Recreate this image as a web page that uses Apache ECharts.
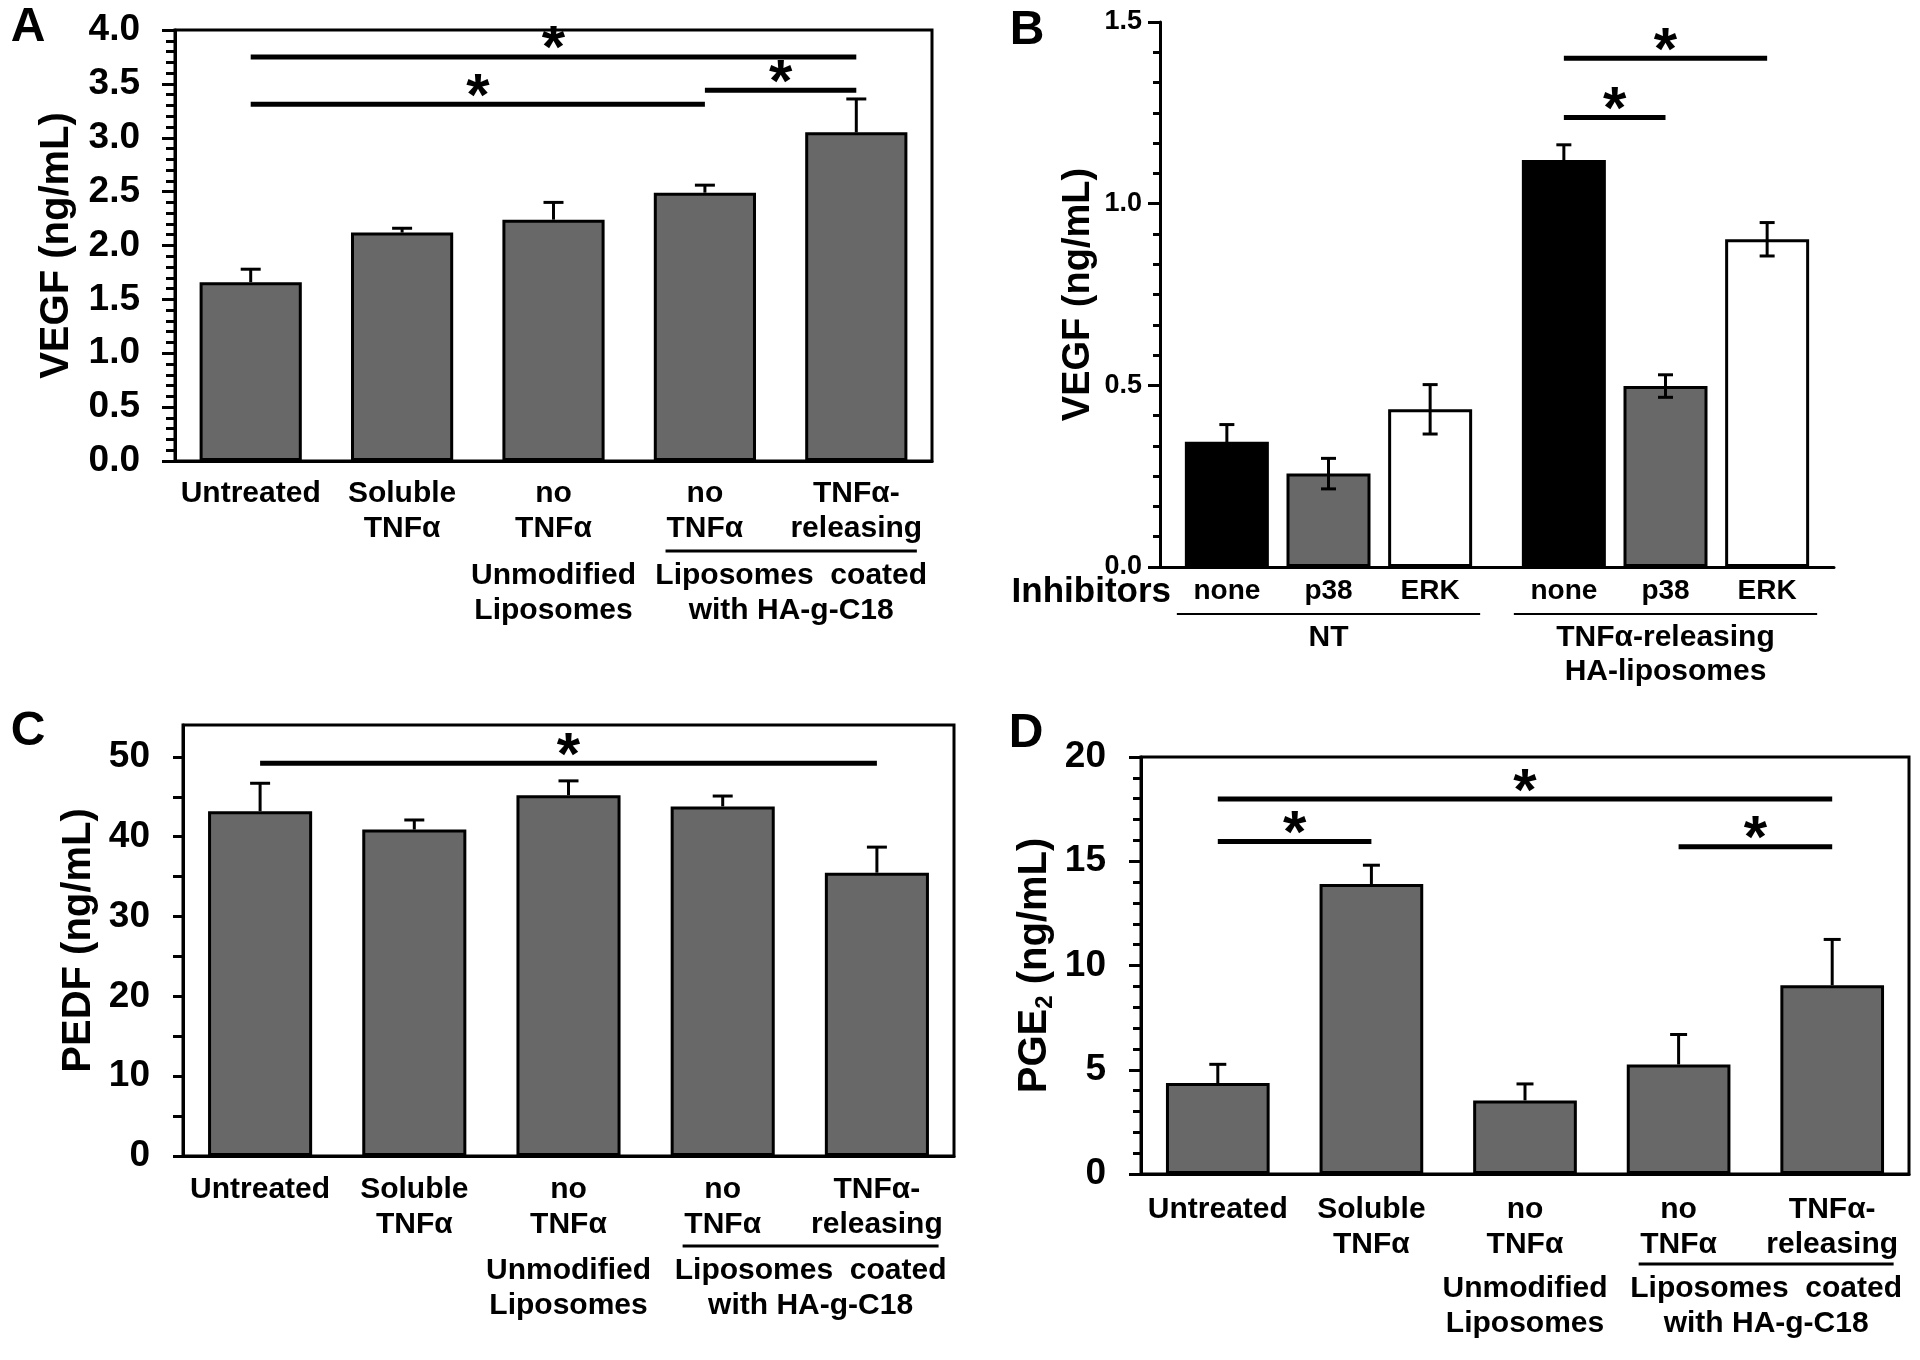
<!DOCTYPE html>
<html><head><meta charset="utf-8">
<script src="https://cdn.jsdelivr.net/npm/echarts@6/dist/echarts.min.js"></script>
<style>html,body{margin:0;padding:0;background:#fff}#c{width:1920px;height:1360px}</style>
</head><body><div id="c"></div>
<script>
// ---------- data ----------
const catsACD = ['Untreated', 'Soluble\nTNFα', 'no\nTNFα', 'no\nTNFα', 'TNFα-\nreleasing'];
const groupLabelsACD = ['Unmodified\nLiposomes', 'Liposomes  coated\nwith HA-g-C18'];

// Panel A: VEGF (ng/mL)
const vegfA = [1.66, 2.12, 2.24, 2.49, 3.05];
const vegfAErr = [0.12, 0.04, 0.16, 0.07, 0.31];
const sigA = [[0, 4, 3.75], [0, 3, 3.31], [3, 4, 3.44]];

// Panel B: VEGF (ng/mL) with inhibitors
const groupsB = ['NT', 'TNFα-releasing\nHA-liposomes'];
const inhibitorsB = ['none', 'p38', 'ERK'];
const vegfBNone = [0.345, 1.12];
const vegfBP38 = [0.257, 0.498];
const vegfBErk = [0.434, 0.902];
const vegfBNoneErr = [0.047, 0.042];
const vegfBP38Err = [0.042, 0.031];
const vegfBErkErr = [0.068, 0.046];
const sigB = [[1, 0, 2, 1.40], [1, 0, 1, 1.237]];

// Panel C: PEDF (ng/mL)
const pedfC = [43.2, 40.9, 45.2, 43.8, 35.5];
const pedfCErr = [3.5, 1.2, 1.8, 1.3, 3.2];
const sigC = [[0, 4, 49.2]];
const ticksC = [0, 5, 10, 15, 20, 25, 30, 35, 40, 45, 50];
const labelsC = [0, 10, 20, 30, 40, 50];

// Panel D: PGE2 (ng/mL)
const pge2D = [4.36, 13.91, 3.53, 5.25, 9.05];
const pge2DErr = [0.9, 0.9, 0.79, 1.44, 2.2];
const sigD = [[0, 4, 17.98], [0, 1, 15.95], [3, 4, 15.7]];

// ---------- styling ----------
const FONT = '"Liberation Sans", Arial, Helvetica, sans-serif';
const GREY = '#686868';
const B_BAR_W = 84, B_GAP = 0.21, B_STEP = B_BAR_W * (1 + B_GAP);
const txt = (s) => ({ fontFamily: FONT, fontWeight: 'bold', fontSize: s, color: '#000' });
const blackLine = (w) => ({ color: '#000', width: w });

function catAxis(gi, data, margin, fs, lh) {
  return {
    type: 'category', gridIndex: gi, data: data,
    axisLine: { show: true, lineStyle: blackLine(3) },
    axisTick: { show: false },
    axisLabel: Object.assign(txt(fs), { interval: 0, margin: margin, lineHeight: lh }),
    splitLine: { show: false }
  };
}
function valAxis(gi, o) {
  const ax = {
    type: 'value', gridIndex: gi, min: o.min, max: o.max,
    axisLine: { show: true, onZero: false, lineStyle: blackLine(3) },
    axisTick: { show: true, length: o.tickLen, lineStyle: blackLine(3) },
    axisLabel: Object.assign(txt(o.fs), { margin: o.margin }),
    splitLine: { show: false },
    name: o.name, nameLocation: 'middle', nameGap: o.nameGap, nameRotate: 90,
    nameMoveOverlap: false,
    nameTextStyle: o.nameStyle || txt(o.nameFs)
  };
  if (o.interval != null) ax.interval = o.interval;
  if (o.minor) ax.minorTick = { show: true, splitNumber: o.minor, length: o.minorLen, lineStyle: blackLine(3) };
  if (o.fmt) ax.axisLabel.formatter = o.fmt;
  return ax;
}
function barSeries(gi, data) {
  return {
    type: 'bar', xAxisIndex: gi, yAxisIndex: gi, data: data, barWidth: '67.5%', z: 2,
    itemStyle: { color: GREY, borderColor: '#000', borderWidth: 3 }
  };
}
function upErr(gi, vals, errs, capW) {
  return {
    type: 'custom', xAxisIndex: gi, yAxisIndex: gi, z: 5, silent: true,
    data: vals.map((v, i) => [i, v, errs[i]]),
    encode: { x: 0, y: 1 },
    renderItem: function (params, api) {
      const i = api.value(0), v = api.value(1), e = api.value(2);
      const b = api.coord([i, v]), t = api.coord([i, v + e]);
      return { type: 'group', children: [
        { type: 'line', shape: { x1: b[0], y1: b[1], x2: t[0], y2: t[1] }, style: { stroke: '#000', lineWidth: 3 } },
        { type: 'line', shape: { x1: t[0] - capW / 2, y1: t[1], x2: t[0] + capW / 2, y2: t[1] }, style: { stroke: '#000', lineWidth: 3 } }
      ] };
    }
  };
}

const bVals = [vegfBNone, vegfBP38, vegfBErk];
const bErrs = [vegfBNoneErr, vegfBP38Err, vegfBErkErr];
const bColors = ['#000000', GREY, '#ffffff'];
const bData = [];
for (let g = 0; g < groupsB.length; g++) for (let s = 0; s < 3; s++) bData.push([g, bVals[s][g], bErrs[s][g], s]);

const gridBase = { show: true, borderColor: '#000', borderWidth: 3, backgroundColor: 'transparent', containLabel: false, outerBoundsMode: 'none' };

const option = {
  animation: false,
  backgroundColor: '#fff',
  grid: [
    Object.assign({}, gridBase, { left: 175, top: 30, width: 757, height: 431 }),
    Object.assign({}, gridBase, { left: 1160, top: 22, width: 674, height: 545, show: false }),
    Object.assign({}, gridBase, { left: 183, top: 725, width: 771, height: 431 }),
    Object.assign({}, gridBase, { left: 1141, top: 757, width: 768, height: 417 })
  ],
  xAxis: [
    catAxis(0, catsACD, 15, 30, 35),
    catAxis(1, groupsB, 54, 30, 34),
    catAxis(2, catsACD, 16, 30, 35),
    catAxis(3, catsACD, 18, 30, 35)
  ],
  yAxis: [
    valAxis(0, { min: 0, max: 4, interval: 0.5, minor: 5, tickLen: 13, minorLen: 9, fs: 37, margin: 35,
      fmt: v => v.toFixed(1), name: 'VEGF (ng/mL)', nameGap: 98, nameFs: 40 }),
    valAxis(1, { min: 0, max: 1.5, interval: 0.5, minor: 6, tickLen: 12, minorLen: 7, fs: 27, margin: 18,
      fmt: v => v.toFixed(1), name: 'VEGF (ng/mL)', nameGap: 62, nameFs: 38 }),
    (function () {
      const ax = valAxis(2, { min: 0, max: 54, tickLen: 10, fs: 37, margin: 33, name: 'PEDF (ng/mL)', nameGap: 84, nameFs: 40 });
      ax.axisTick.customValues = ticksC;
      ax.axisLabel.customValues = labelsC;
      return ax;
    })(),
    valAxis(3, { min: 0, max: 20, interval: 5, minor: 5, tickLen: 12, minorLen: 8, fs: 37, margin: 35,
      name: '{b|PGE}{s|2}{b| (ng/mL)}', nameGap: 84,
      nameStyle: { rich: {
        b: Object.assign(txt(40), { lineHeight: 44 }),
        s: Object.assign(txt(24), { lineHeight: 24, verticalAlign: 'bottom' })
      } } })
  ],
  series: [
    barSeries(0, vegfA),
    upErr(0, vegfA, vegfAErr, 20),
    barSeries(2, pedfC),
    upErr(2, pedfC, pedfCErr, 20),
    barSeries(3, pge2D),
    upErr(3, pge2D, pge2DErr, 17)
  ].concat(inhibitorsB.map((name, s) => ({
    type: 'bar', name: name, xAxisIndex: 1, yAxisIndex: 1, data: bVals[s],
    barWidth: B_BAR_W, barGap: (B_GAP * 100) + '%', z: 2,
    itemStyle: { color: bColors[s], borderColor: '#000', borderWidth: 3 },
    label: Object.assign(txt(28), { show: true, position: 'bottom', distance: 10, lineHeight: 28, formatter: '{a}' })
  }))).concat([{
    type: 'custom', xAxisIndex: 1, yAxisIndex: 1, z: 5, silent: true,
    data: bData, encode: { x: 0, y: 1 },
    renderItem: function (params, api) {
      const g = api.value(0), v = api.value(1), e = api.value(2), s = api.value(3);
      const off = (s - 1) * B_STEP;
      const x = api.coord([g, v])[0] + off;
      const yt = api.coord([g, v + e])[1], yb = api.coord([g, v - e])[1];
      const cap = 15;
      const st = { stroke: '#000', lineWidth: 3 };
      return { type: 'group', children: [
        { type: 'line', shape: { x1: x, y1: yb, x2: x, y2: yt }, style: st },
        { type: 'line', shape: { x1: x - cap / 2, y1: yt, x2: x + cap / 2, y2: yt }, style: st },
        { type: 'line', shape: { x1: x - cap / 2, y1: yb, x2: x + cap / 2, y2: yb }, style: st }
      ] };
    }
  }])
};

const chart = echarts.init(document.getElementById('c'), null, { renderer: 'canvas', width: 1920, height: 1360 });
chart.setOption(option);

// ---------- annotations via the chart's own scales ----------
const gfx = [];
const px = (gi, c, v) => chart.convertToPixel({ gridIndex: gi }, [c, v]);
function addText(text, x, y, fs, align, vAlign, lh) {
  gfx.push({ type: 'text', z: 50, silent: true, style: {
    text: text, x: x, y: y, fontFamily: FONT, fontWeight: 'bold', fontSize: fs, fill: '#000',
    align: align, verticalAlign: vAlign, textAlign: align, textVerticalAlign: vAlign, lineHeight: lh || fs
  } });
}
function addLine(x1, y1, x2, y2, w) {
  gfx.push({ type: 'line', z: 50, silent: true, shape: { x1: x1, y1: y1, x2: x2, y2: y2 }, style: { stroke: '#000', lineWidth: w } });
}
const STAR_FS = 60, STAR_DY = 6, SIG_W = 5;
function sigACD(gi, list) {
  list.forEach(([a, b, h]) => {
    const p1 = px(gi, a, h), p2 = px(gi, b, h);
    addLine(p1[0], p1[1], p2[0], p2[1], SIG_W);
    addText('*', (p1[0] + p2[0]) / 2, p1[1] - STAR_DY, STAR_FS, 'center', 'middle');
  });
}
function groupsACD(gi) {
  const o = px(gi, 0, 0), axisY = o[1];
  const band = px(gi, 1, 0)[0] - o[0];
  const c2 = px(gi, 2, 0)[0], c3 = px(gi, 3, 0)[0], c4 = px(gi, 4, 0)[0];
  addText(groupLabelsACD[0], c2, axisY + 97, 30, 'center', 'top', 35);
  const x1 = c3 - 0.26 * band, x2 = c4 + 0.4 * band;
  addLine(x1, axisY + 90, x2, axisY + 90, 3);
  addText(groupLabelsACD[1], (x1 + x2) / 2, axisY + 97, 30, 'center', 'top', 35);
}
sigACD(0, sigA); sigACD(2, sigC); sigACD(3, sigD);
groupsACD(0); groupsACD(2); groupsACD(3);

// panel B annotations
(function () {
  sigB.forEach(([g, i, j, h]) => {
    const c = px(1, g, h);
    const x1 = c[0] + (i - 1) * B_STEP, x2 = c[0] + (j - 1) * B_STEP;
    addLine(x1, c[1], x2, c[1], SIG_W);
    addText('*', (x1 + x2) / 2, c[1] - STAR_DY, STAR_FS, 'center', 'middle');
  });
  const o = px(1, 0, 0), axisY = o[1];
  const band = px(1, 1, 0)[0] - o[0];
  for (let g = 0; g < groupsB.length; g++) {
    const c = px(1, g, 0)[0];
    addLine(c - 0.45 * band, axisY + 47, c + 0.45 * band, axisY + 47, 2);
  }
  addText('Inhibitors', o[0] - band / 2 + 11, axisY + 25, 35, 'right', 'middle');
})();

// panel letters
addText('A', 28, 28, 48, 'center', 'middle');
addText('B', 1027, 31, 48, 'center', 'middle');
addText('C', 28, 732, 48, 'center', 'middle');
addText('D', 1026, 734, 48, 'center', 'middle');

chart.setOption({ graphic: { elements: gfx } });
</script>
</body></html>
